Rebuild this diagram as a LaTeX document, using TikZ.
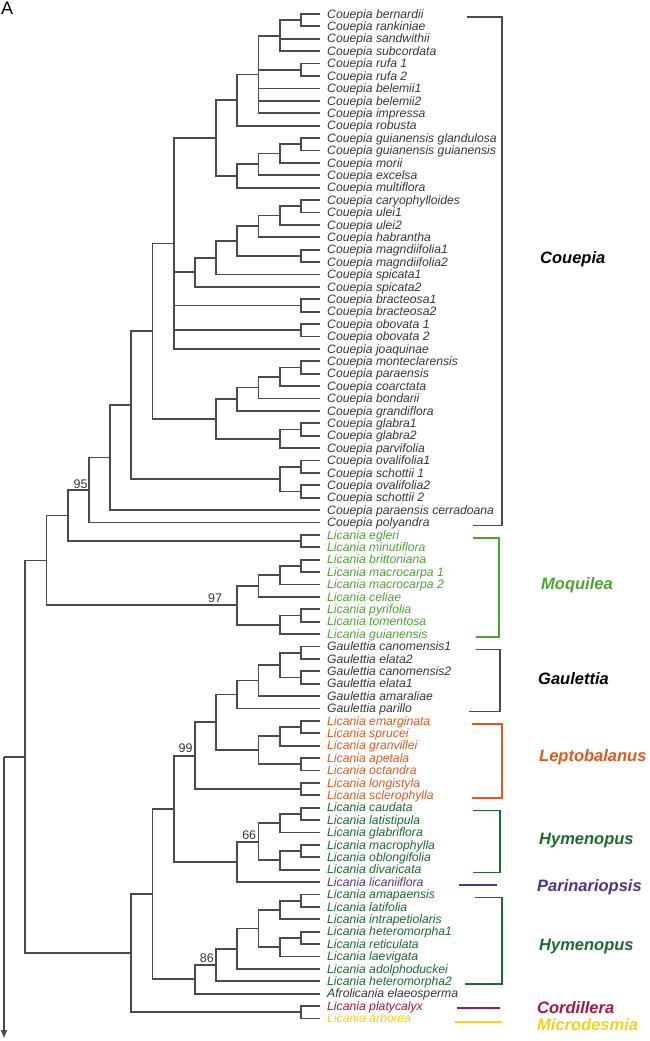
\documentclass[tikz,border=0pt]{standalone}
\usepackage{fontspec}
\setmainfont{Liberation Sans}
\usepackage{tikz}
\usetikzlibrary{arrows.meta,calc}

\definecolor{treegray}{HTML}{4A4A4A}
\definecolor{labgray}{HTML}{363636}
\definecolor{moqgreen}{HTML}{4CA332}
\definecolor{leporange}{HTML}{E0581E}
\definecolor{hymgreen}{HTML}{1C6A2C}
\definecolor{parpurple}{HTML}{4E3488}
\definecolor{corred}{HTML}{A8173F}
\definecolor{micyellow}{HTML}{F7D117}

\tikzset{
  branch/.style={draw=treegray,line width=1.8pt},
  bracket/.style={line width=1.6pt},
  leaf/.style={anchor=base west,inner sep=0pt,xshift=7pt,yshift=-4.2pt,font=\fontsize{12.2}{14}\selectfont\itshape},
  gr/.style={text=labgray}, mq/.style={text=moqgreen}, lp/.style={text=leporange},
  hy/.style={text=hymgreen}, pa/.style={text=parpurple}, co/.style={text=corred}, mi/.style={text=micyellow},
  group/.style={anchor=base west,inner sep=0pt,font=\fontsize{16.5}{18}\selectfont\bfseries\itshape},
  support/.style={anchor=south east,inner sep=0pt,font=\fontsize{12.5}{14}\selectfont,text=labgray}
}

% clade: name, level, children (first..last)
\newcommand\clade[3]{%
  \foreach \ch [count=\k] in {#3} {\ifnum\k=1 \xdef\cfirst{\ch}\fi \xdef\clast{\ch}}%
  \path let \p1=(\cfirst), \p2=(\clast) in coordinate (#1) at ({4+21.2*#2},{(\y1+\y2)/2});
  \foreach \ch in {#3} \draw[branch] (#1) |- (\ch);
}

\begin{document}
\begin{tikzpicture}[x=1pt,y=1pt,>={Latex[length=9pt,width=7pt]}]
\useasboundingbox (0,0) rectangle (650,-1041);

\node[anchor=north west,inner sep=0pt,font=\fontsize{18}{18}\selectfont] (panel) at (1,-2) {A};

% tips and names
\foreach \txt/\sty [count=\i] in {
  Couepia bernardii/gr, Couepia rankiniae/gr, Couepia sandwithii/gr, Couepia subcordata/gr,
  Couepia rufa 1/gr, Couepia rufa 2/gr, Couepia belemii1/gr, Couepia belemii2/gr,
  Couepia impressa/gr, Couepia robusta/gr, Couepia guianensis glandulosa/gr,
  Couepia guianensis guianensis/gr, Couepia morii/gr, Couepia excelsa/gr, Couepia multiflora/gr,
  Couepia caryophylloides/gr, Couepia ulei1/gr, Couepia ulei2/gr, Couepia habrantha/gr,
  Couepia magndiifolia1/gr, Couepia magndiifolia2/gr, Couepia spicata1/gr, Couepia spicata2/gr,
  Couepia bracteosa1/gr, Couepia bracteosa2/gr, Couepia obovata 1/gr, Couepia obovata 2/gr,
  Couepia joaquinae/gr, Couepia monteclarensis/gr, Couepia paraensis/gr, Couepia coarctata/gr,
  Couepia bondarii/gr, Couepia grandiflora/gr, Couepia glabra1/gr, Couepia glabra2/gr,
  Couepia parvifolia/gr, Couepia ovalifolia1/gr, Couepia schottii 1/gr, Couepia ovalifolia2/gr,
  Couepia schottii 2/gr, Couepia paraensis cerradoana/gr, Couepia polyandra/gr,
  Licania egleri/mq, Licania minutiflora/mq, Licania brittoniana/mq, Licania macrocarpa 1/mq,
  Licania macrocarpa 2/mq, Licania celiae/mq, Licania pyrifolia/mq, Licania tomentosa/mq,
  Licania guianensis/mq,
  Gaulettia canomensis1/gr, Gaulettia elata2/gr, Gaulettia canomensis2/gr, Gaulettia elata1/gr,
  Gaulettia amaraliae/gr, Gaulettia parillo/gr,
  Licania emarginata/lp, Licania sprucei/lp, Licania granvillei/lp, Licania apetala/lp,
  Licania octandra/lp, Licania longistyla/lp, Licania sclerophylla/lp,
  Licania caudata/hy, Licania latistipula/hy, Licania glabriflora/hy, Licania macrophylla/hy,
  Licania oblongifolia/hy, Licania divaricata/hy,
  Licania licaniiflora/pa,
  Licania amapaensis/hy, Licania latifolia/hy, Licania intrapetiolaris/hy, Licania heteromorpha1/hy,
  Licania reticulata/hy, Licania laevigata/hy, Licania adolphoduckei/hy, Licania heteromorpha2/hy,
  Afrolicania elaeosperma/gr, Licania platycalyx/co, Licania arborea/mi}
{
  \coordinate (t\i) at (320,{-14-12.4*(\i-1)});
  \node[leaf,\sty] (l\i) at (t\i) {\txt};
}

% Couepia
\clade{c1}{14}{t1,t2}
\clade{c2}{13}{c1,t3,t4}
\clade{c3}{14}{t5,t6}
\clade{c4}{12}{c2,c3,t7,t8,t9}
\clade{c5}{11}{c4,t10}
\clade{c6}{14}{t11,t12}
\clade{c7}{13}{c6,t13}
\clade{c8}{12}{c7,t14}
\clade{c9}{11}{c8,t15}
\clade{c10}{10}{c5,c9}
\clade{d1}{14}{t16,t17}
\clade{d2}{13}{d1,t18}
\clade{d3}{12}{d2,t19}
\clade{d4}{14}{t20,t21}
\clade{d5}{11}{d3,d4}
\clade{d6}{10}{d5,t22}
\clade{d7}{9}{d6,t23}
\clade{d8}{14}{t24,t25}
\clade{d9}{14}{t26,t27}
\clade{c11}{8}{c10,d7,d8,d9,t28}
\clade{f1}{14}{t29,t30}
\clade{f2}{13}{f1,t31}
\clade{f3}{12}{f2,t32}
\clade{f4}{11}{f3,t33}
\clade{f5}{14}{t34,t35}
\clade{f6}{13}{f5,t36}
\clade{f7}{10}{f4,f6}
\clade{c12}{7}{c11,f7}
\clade{g1}{14}{t37,t38}
\clade{g2}{14}{t39,t40}
\clade{g3}{13}{g1,g2}
\clade{c13}{6}{c12,g3}
\clade{c14}{5}{c13,t41}
\clade{c15}{4}{c14,t42}
% Moquilea
\clade{m1}{14}{t43,t44}
\clade{c16}{3}{c15,m1}
\clade{m2}{14}{t45,t46}
\clade{m3}{13}{m2,t47}
\clade{m4}{12}{m3,t48}
\clade{m5}{14}{t49,t50}
\clade{m6}{13}{m5,t51}
\clade{m7}{11}{m4,m6}
\clade{c17}{2}{c16,m7}
% Gaulettia, Leptobalanus
\clade{u1}{14}{t52,t53}
\clade{u2}{14}{t54,t55}
\clade{u3}{13}{u1,u2}
\clade{u4}{12}{u3,t56}
\clade{u5}{11}{u4,t57}
\clade{v1}{14}{t58,t59}
\clade{v2}{13}{v1,t60}
\clade{v3}{14}{t61,t62}
\clade{v4}{12}{v2,v3}
\clade{v5}{10}{u5,v4}
\clade{v6}{14}{t63,t64}
\clade{v7}{9}{v5,v6}
% Hymenopus, Parinariopsis
\clade{h1}{14}{t65,t66}
\clade{h2}{13}{h1,t67}
\clade{h3}{14}{t68,t69}
\clade{h4}{13}{h3,t70}
\clade{h5}{12}{h2,h4}
\clade{h6}{11}{h5,t71}
\clade{v8}{8}{v7,h6}
\clade{k1}{14}{t72,t73}
\clade{k2}{13}{k1,t74}
\clade{k3}{14}{t75,t76}
\clade{k4}{13}{k3,t77}
\clade{k5}{12}{k2,k4}
\clade{k6}{11}{k5,t78}
\clade{k7}{10}{k6,t79}
\clade{k8}{9}{k7,t80}
\clade{v9}{7}{v8,k8}
\clade{p1}{14}{t81,t82}
\clade{v10}{6}{v9,p1}
\clade{r1}{1}{c17,v10}

% root
\coordinate (root) at (r1 -| 4,0);
\coordinate (rootend) at (4,-1039);
\draw[branch] (root) -- (r1);
\draw[branch,->] (root) -- (rootend);

% support values
\node[support] (s95) at ([xshift=-1pt,yshift=1.5pt]c15) {95};
\node[support] (s97) at ([xshift=-15pt,yshift=2.5pt]m7) {97};
\node[support] (s99) at ([xshift=-2pt,yshift=2.5pt]v7) {99};
\node[support] (s66) at ([xshift=-2pt,yshift=1.5pt]h5) {66};
\node[support] (s86) at ([xshift=-2pt,yshift=2.5pt]k7) {86};

% brackets
\foreach \a/\b/\xa/\xr/\xb/\col in {1/42/147/182/153/treegray, 43/51/153/179/156/moqgreen,
  52/57/156/180/149/treegray, 58/64/152/182/152/leporange, 65/70/153/180/153/hymgreen,
  72/79/155/182/145/hymgreen}
  \draw[bracket,draw=\col] ([xshift=\xa pt,yshift=-3pt]t\a) -| ([xshift=\xr pt,yshift=-3pt]t\b)
    -- ([xshift=\xb pt,yshift=-3pt]t\b);
\draw[bracket,draw=parpurple] ([xshift=139pt,yshift=-3pt]t71) -- ([xshift=177pt,yshift=-3pt]t71);
\draw[bracket,draw=corred] ([xshift=137pt,yshift=-2pt]t81) -- ([xshift=180pt,yshift=-2pt]t81);
\draw[bracket,draw=micyellow] ([xshift=135pt,yshift=-3.5pt]t82) -- ([xshift=182pt,yshift=-3.5pt]t82);

% group names
\node[group,text=black] (gCou) at (540,-263) {Couepia};
\node[group,text=moqgreen] (gMoq) at (541,-589) {Moquilea};
\node[group,text=black] (gGau) at (538,-684) {Gaulettia};
\node[group,text=leporange] (gLep) at (539,-761) {Leptobalanus};
\node[group,text=hymgreen] (gHym) at (539,-844) {Hymenopus};
\node[group,text=parpurple] (gPar) at (537,-891) {Parinariopsis};
\node[group,text=hymgreen] (gHymb) at (539,-950) {Hymenopus};
\node[group,text=corred] (gCor) at (537,-1013) {Cordillera};
\node[group,text=micyellow] (gMic) at (537,-1030) {Microdesmia};
\end{tikzpicture}
\end{document}
